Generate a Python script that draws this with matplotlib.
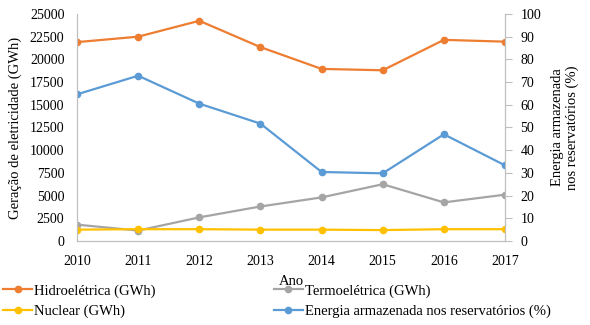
import matplotlib.pyplot as plt
from matplotlib.lines import Line2D

plt.rcParams['font.family'] = ['Liberation Serif', 'DejaVu Serif']
plt.rcParams['font.size'] = 10

anos = [2010, 2011, 2012, 2013, 2014, 2015, 2016, 2017]
hidro = [21900, 22500, 24250, 21350, 18950, 18800, 22150, 21950]
termo = [1800, 1150, 2600, 3800, 4800, 6250, 4250, 5100]
nuclear = [1250, 1300, 1300, 1250, 1250, 1200, 1300, 1300]
reserv = [64.6, 72.8, 60.5, 51.7, 30.4, 29.8, 47.0, 33.3]

c_hidro = '#ED7D31'
c_termo = '#A5A5A5'
c_nuc = '#FFC000'
c_res = '#5B9BD5'
spine_c = '#BFBFBF'

fig = plt.figure(figsize=(5.9, 3.25), dpi=100)
ax = fig.add_axes([0.1305, 0.2585, 0.7255, 0.6985])
ax2 = ax.twinx()

kw = dict(lw=1.6, marker='o', ms=4.5)
ax.plot(anos, hidro, color=c_hidro, **kw)
ax.plot(anos, termo, color=c_termo, **kw)
ax.plot(anos, nuclear, color=c_nuc, **kw)
ax2.plot(anos, reserv, color=c_res, **kw)

ax.set_xlim(2010, 2017)
ax.set_ylim(0, 25000)
ax.set_yticks(range(0, 25001, 2500))
ax2.set_ylim(0, 100)
ax2.set_yticks(range(0, 101, 10))
ax.set_xticks(anos)

for a in (ax, ax2):
    a.spines['top'].set_visible(False)
    for s in ('left', 'right', 'bottom'):
        a.spines[s].set_color(spine_c)
ax.tick_params(axis='y', length=0, pad=9)
ax.tick_params(axis='x', length=0, pad=10)
ax2.tick_params(axis='y', length=5, color=spine_c, pad=6)

ax.set_ylabel('Geração de eletricidade (GWh)', fontsize=10.5, labelpad=6)
ax2.set_ylabel('Energia armazenada\nnos reservatórios (%)', fontsize=10.5,
               labelpad=7)
ax.set_xlabel('Ano', fontsize=10.5, labelpad=5)

handles = [
    Line2D([], [], color=c_hidro, **kw),
    Line2D([], [], color=c_nuc, **kw),
    Line2D([], [], color=c_termo, **kw),
    Line2D([], [], color=c_res, **kw),
]
labels = ['Hidroelétrica (GWh)', 'Nuclear (GWh)',
          'Termoelétrica (GWh)', 'Energia armazenada nos reservatórios (%)']
fig.legend(handles, labels, ncol=2, loc='upper left',
           bbox_to_anchor=(0.0, 0.135), frameon=False, fontsize=10.5,
           handlelength=2.0, handletextpad=0.15, columnspacing=8.1,
           labelspacing=0.5, borderaxespad=0, borderpad=0.2)

fig.savefig('out.png', dpi=100)
